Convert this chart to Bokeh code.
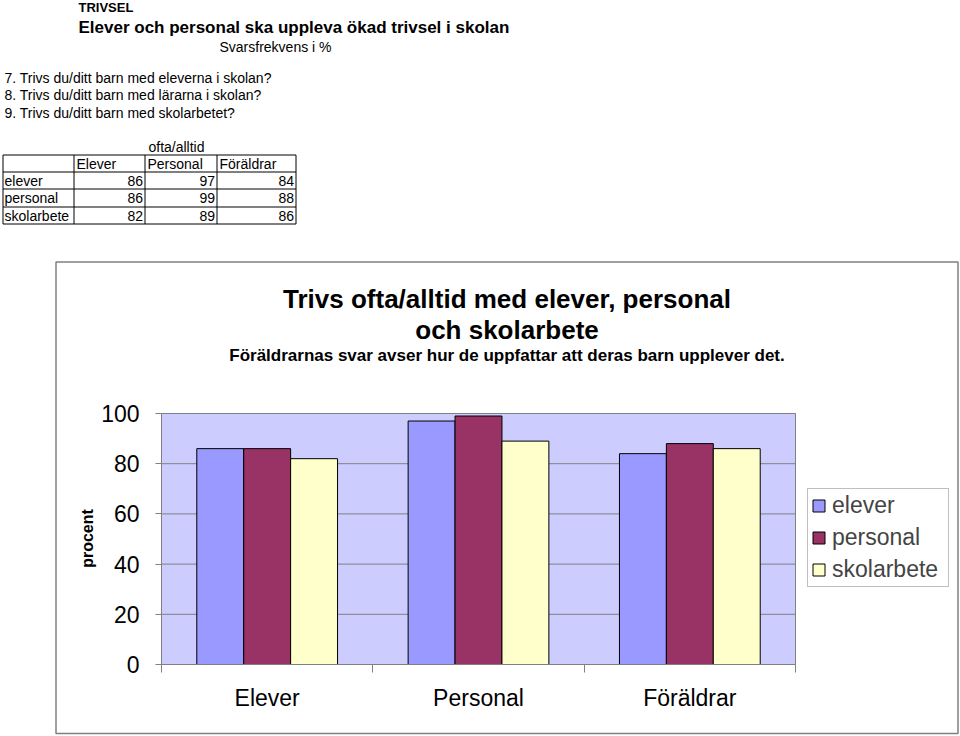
import math
from bokeh.plotting import figure
from bokeh.models import (FixedTicker, LinearAxis, Range1d, Legend, LegendItem,
                          ColumnDataSource, Label)
from bokeh.transform import dodge
from bokeh.embed import file_html
from bokeh.resources import INLINE

# ---------------- data ----------------
categories = ["Elever", "Personal", "Föräldrar"]
series_names = ["elever", "personal", "skolarbete"]
elever = [86, 97, 84]
personal = [86, 99, 88]
skolarbete = [82, 89, 86]
y_ticks = [0, 20, 40, 60, 80, 100]
series_colors = ["#9999FF", "#993366", "#FFFFCC"]

header_title = "TRIVSEL"
main_title = "Elever och personal ska uppleva ökad trivsel i skolan"
sub_header = "Svarsfrekvens i %"
questions = ["7. Trivs du/ditt barn med eleverna i skolan?",
             "8. Trivs du/ditt barn med lärarna i skolan?",
             "9. Trivs du/ditt barn med skolarbetet?"]
table_caption = "ofta/alltid"
chart_title = ["Trivs ofta/alltid med elever, personal", "och skolarbete"]
chart_subtitle = "Föräldrarnas svar avser hur de uppfattar att deras barn upplever det."
y_label = "procent"

# ---------------- geometry / style ----------------
FONT = "Liberation Sans"
W, H = 960, 736
PL, PR, PT, PB = 161, 795, 413, 664      # plot area in page pixels
n = len(categories)
YMAX = 100

kx = n / (PR - PL)            # category units per pixel
ky = YMAX / (PB - PT)         # percent per pixel

p = figure(width=W, height=H, output_backend="svg", toolbar_location=None,
           x_range=Range1d(0, W), y_range=Range1d(H, 0), title=None,
           x_axis_location=None, y_axis_location=None,
           min_border=0, min_border_left=0, min_border_right=0,
           min_border_top=0, min_border_bottom=0)
p.grid.visible = False
p.outline_line_color = None
p.background_fill_color = "white"
p.border_fill_color = "white"
p.extra_x_ranges = {"cx": Range1d(0.5 - PL * kx, 0.5 + (W - PL) * kx)}
p.extra_y_ranges = {"py": Range1d(-(H - PB) * ky, PB * ky)}


def T(text, x, y, size, bold=False, align="left", angle=0.0):
    p.add_layout(Label(x=x, y=y, text=text, text_font=FONT, text_font_size=f"{size}px",
                       text_font_style="bold" if bold else "normal", text_color="black",
                       text_align=align, text_baseline="middle", angle=angle))


# ---------------- top text & table ----------------
T(header_title, 78, 7, 13, bold=True)
T(main_title, 78, 27, 17, bold=True)
T(sub_header, 275, 46, 14, align="center")
for i, q in enumerate(questions):
    T(q, 4, 77 + i * 17.5, 14)
T(table_caption, 176, 146, 14, align="center")

col_x = [2.5, 73.5, 144.5, 216.5, 295.5]
row_y = [154.5, 171.5, 188.5, 206.5, 223.5]
p.segment(x0=[col_x[0]] * len(row_y), x1=[col_x[-1]] * len(row_y), y0=row_y, y1=row_y,
          line_color="black", line_width=1)
p.segment(x0=col_x, x1=col_x, y0=[row_y[0]] * len(col_x), y1=[row_y[-1]] * len(col_x),
          line_color="black", line_width=1)
for ci, c in enumerate(categories):
    T(c, col_x[ci + 1] + 2.5, (row_y[0] + row_y[1]) / 2, 14)
for ri, (nm, vals) in enumerate(zip(series_names, [elever, personal, skolarbete])):
    cy = (row_y[ri + 1] + row_y[ri + 2]) / 2
    T(nm, col_x[0] + 1.5, cy, 14)
    for ci, v in enumerate(vals):
        T(str(v), col_x[ci + 2] - 2, cy, 14, align="right")

# ---------------- chart box & titles ----------------
p.quad(left=[55.5], right=[957.5], top=[261.5], bottom=[733], fill_color=None,
       line_color="#808080", line_width=1.5)
T(chart_title[0], 506.5, 298, 26, bold=True, align="center")
T(chart_title[1], 506.5, 329, 26, bold=True, align="center")
T(chart_subtitle, 506.5, 355, 17, bold=True, align="center")
T(y_label, 87, 538, 16, bold=True, align="center", angle=math.pi / 2)

# ---------------- plot area ----------------
p.quad(left=[0.5], right=[n + 0.5], bottom=[0], top=[YMAX], x_range_name="cx",
       y_range_name="py", fill_color="#CCCCFF", line_color="#808080", line_width=1)
grid_vals = [t for t in y_ticks if 0 < t < YMAX]
p.segment(x0=[0.5] * len(grid_vals), x1=[n + 0.5] * len(grid_vals), y0=grid_vals,
          y1=grid_vals, x_range_name="cx", y_range_name="py", line_color="#808080",
          line_width=1)

src = ColumnDataSource(dict(x=[i + 1 for i in range(n)], elever=elever,
                            personal=personal, skolarbete=skolarbete))
bw = 0.222
renderers = []
for k, (name, col) in enumerate(zip(series_names, series_colors)):
    r = p.vbar(x=dodge("x", (k - 1) * bw), top=name, bottom=0, width=bw, source=src,
               x_range_name="cx", y_range_name="py",
               fill_color=col, line_color="black", line_width=1)
    renderers.append(r)

yaxis = LinearAxis(x_range_name="cx", y_range_name="py", fixed_location=0.5,
                   bounds=(0, YMAX), ticker=FixedTicker(ticks=y_ticks),
                   major_label_text_font=FONT, major_label_text_font_size="23px",
                   major_label_text_color="black",
                   major_tick_out=6, major_tick_in=0, minor_tick_out=0, minor_tick_in=0,
                   axis_line_color="#808080", major_tick_line_color="#808080",
                   major_label_standoff=16)
p.add_layout(yaxis, "left")

xaxis = LinearAxis(x_range_name="cx", y_range_name="py", fixed_location=0,
                   bounds=(0.5, n + 0.5),
                   ticker=FixedTicker(ticks=[i + 1 for i in range(n)],
                                      minor_ticks=[i + 0.5 for i in range(n + 1)]),
                   major_label_overrides={i + 1: c for i, c in enumerate(categories)},
                   major_tick_line_color=None, major_tick_out=0, major_tick_in=0,
                   minor_tick_line_color="#808080", minor_tick_out=8, minor_tick_in=0,
                   axis_line_color="#808080",
                   major_label_text_font=FONT, major_label_text_font_size="23px",
                   major_label_text_color="black", major_label_standoff=12)
p.add_layout(xaxis, "below")

legend = Legend(items=[LegendItem(label=nm, renderers=[r]) for nm, r in zip(series_names, renderers)],
                location=(807, H - 587), padding=3, spacing=5, label_height=23,
                glyph_height=15, glyph_width=15, label_standoff=6, label_width=113,
                label_text_font=FONT, label_text_font_size="23px",
                border_line_color="#808080", background_fill_color="white",
                background_fill_alpha=1, margin=0)
p.add_layout(legend)

open("out.html", "w").write(file_html(p, INLINE))
